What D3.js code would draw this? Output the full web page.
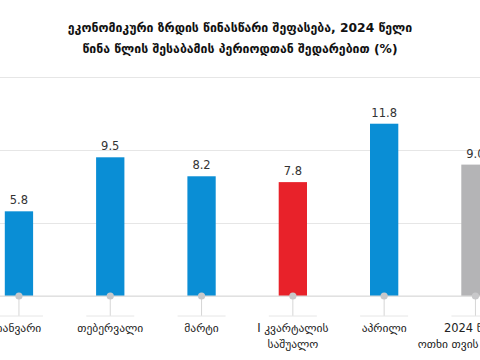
<!DOCTYPE html>
<html><head><meta charset="utf-8">
<script src="https://cdn.jsdelivr.net/npm/d3@7"></script>
<style>html,body{margin:0;padding:0;background:#fff;overflow:hidden}</style>
</head><body>
<svg id="c" width="480" height="360"></svg>
<script>
const titleLines = ["ეკონომიკური ზრდის წინასწარი შეფასება, 2024 წელი", "წინა წლის შესაბამის პერიოდთან შედარებით (%)"];
const categories = ["იანვარი", "თებერვალი", "მარტი", "I კვარტალის\nსაშუალო", "აპრილი", "2024 წლის\nოთხი თვის საშუალო"];
const values = [5.8, 9.5, 8.2, 7.8, 11.8, 9.0];
const barColors = ["#0a8ed5", "#0a8ed5", "#0a8ed5", "#e8222a", "#0a8ed5", "#b4b4b6"];
const gridTicks = [0, 5, 10, 15];

const svg = d3.select("#c");
const font = "'DejaVu Sans', sans-serif";

const x = d3.scaleBand().domain(categories).range([-26.7, 521.1]).paddingInner(0.69).paddingOuter(0.345);
const y = d3.scaleLinear().domain([0, 15]).range([296, 77]);

// title
svg.selectAll("text.title").data(titleLines).enter().append("text")
  .attr("x", 240).attr("y", (d, i) => 32 + i * 21)
  .attr("text-anchor", "middle").attr("font-family", font).attr("font-weight", "bold")
  .attr("font-size", 12.3).attr("fill", "#111").text(d => d);

// grid
const grid = svg.append("g")
  .call(d3.axisLeft(y).tickValues(gridTicks).tickSize(-480).tickFormat(""));
grid.select(".domain").remove();
grid.selectAll(".tick line").attr("stroke", "#e6e6e6").attr("stroke-width", 1)
  .attr("x1", 0).attr("x2", 480);

// bars
svg.selectAll("rect.bar").data(values).enter().append("rect")
  .attr("x", (d, i) => x(categories[i])).attr("width", x.bandwidth())
  .attr("y", d => y(d)).attr("height", d => y(0) - y(d))
  .attr("fill", (d, i) => barColors[i]);

// value labels
svg.selectAll("text.val").data(values).enter().append("text")
  .attr("x", (d, i) => x(categories[i]) + x.bandwidth() / 2)
  .attr("y", d => y(d) - 7)
  .attr("text-anchor", "middle").attr("font-family", font).attr("font-size", 11.5)
  .attr("fill", "#333").text(d => d.toFixed(1));

// baseline
svg.append("line").attr("x1", 0).attr("x2", 480).attr("y1", y(0)).attr("y2", y(0))
  .attr("stroke", "#dcdcdc").attr("stroke-width", 1.2);

// category markers
const cx = c => x(c) + x.bandwidth() / 2;
const mk = svg.selectAll("g.mk").data(categories).enter().append("g")
  .attr("transform", c => `translate(${cx(c)},${y(0)})`);
mk.append("line").attr("x1", 0).attr("x2", 0).attr("y1", 0).attr("y2", 20)
  .attr("stroke", "#d6d6d6").attr("stroke-width", 1);
mk.append("line").attr("x1", -24).attr("x2", 24).attr("y1", 20).attr("y2", 20)
  .attr("stroke", "#e6e6e6").attr("stroke-width", 1);
mk.append("circle").attr("r", 3.6).attr("fill", "#c8c8ca");
mk.each(function(c) {
  const t = d3.select(this).append("text").attr("text-anchor", "middle")
    .attr("font-family", font).attr("font-size", 11.5).attr("fill", "#222");
  c.split("\n").forEach((line, i) => {
    t.append("tspan").attr("x", 0).attr("y", 36 + i * 16).text(line);
  });
});
</script>
</body></html>
